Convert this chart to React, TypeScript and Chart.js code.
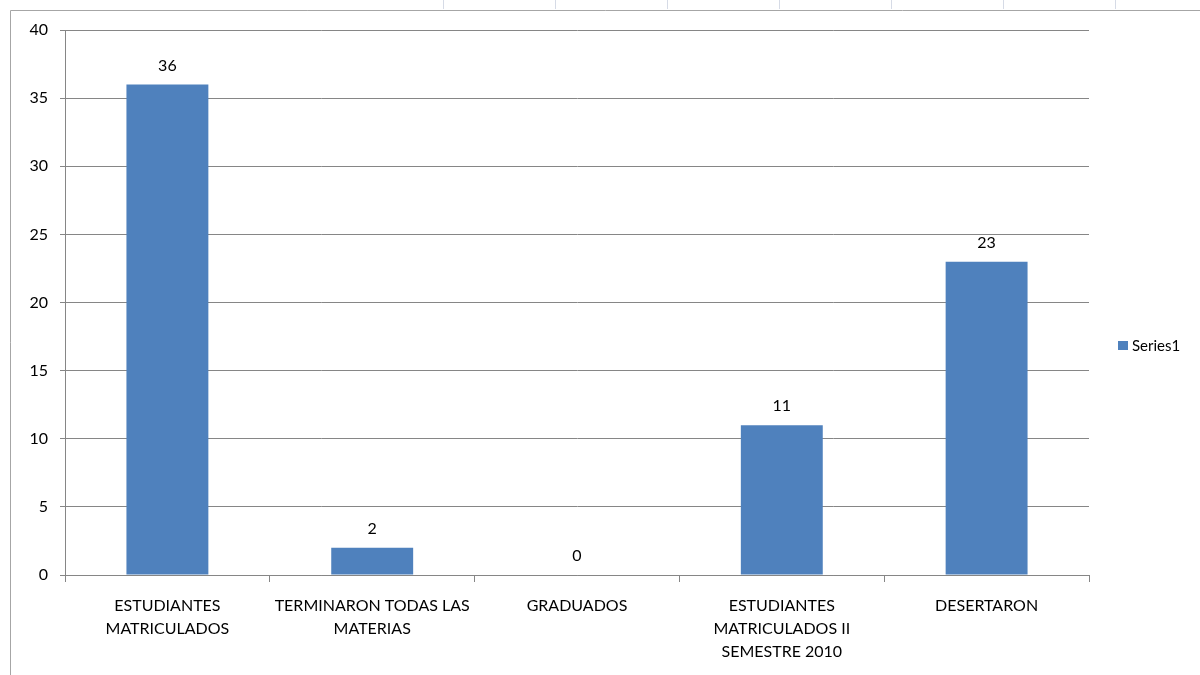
import React, { useEffect, useRef } from "react";
import { Chart, registerables } from "chart.js";

Chart.register(...registerables);

const categories: string[][] = [
  ["ESTUDIANTES", "MATRICULADOS"],
  ["TERMINARON TODAS LAS", "MATERIAS"],
  ["GRADUADOS"],
  ["ESTUDIANTES", "MATRICULADOS II", "SEMESTRE 2010"],
  ["DESERTARON"],
];
const seriesName = "Series1";
const seriesValues: number[] = [36, 2, 0, 11, 23];
const yTicksMin = 0;
const yTicksMax = 40;
const yTicksStep = 5;

const FONT = "Lato, 'Liberation Sans', sans-serif";
const BAR_COLOR = "#4f81bd";
const GRID = "#868686";

const framePlugin = {
  id: "frame",
  beforeDraw(chart: any) {
    const ctx = chart.ctx;
    ctx.save();
    ctx.fillStyle = "#ffffff";
    ctx.fillRect(0, 0, chart.width, chart.height);
    ctx.strokeStyle = "#d6dbe6";
    ctx.lineWidth = 1;
    [443, 555, 667, 779, 891, 1003, 1115].forEach((x) => {
      ctx.beginPath();
      ctx.moveTo(x + 0.5, 0);
      ctx.lineTo(x + 0.5, 9);
      ctx.stroke();
    });
    ctx.strokeStyle = "#a6a6a6";
    ctx.beginPath();
    ctx.moveTo(10.5, chart.height);
    ctx.lineTo(10.5, 10.5);
    ctx.lineTo(chart.width, 10.5);
    ctx.stroke();
    ctx.restore();
  },
};

const valueLabelPlugin = {
  id: "valueLabels",
  afterDatasetsDraw(chart: any) {
    const ctx = chart.ctx;
    ctx.save();
    ctx.font = `16px ${FONT}`;
    ctx.fillStyle = "#000000";
    ctx.textAlign = "center";
    ctx.textBaseline = "middle";
    chart.data.datasets.forEach((ds: any, di: number) => {
      const meta = chart.getDatasetMeta(di);
      meta.data.forEach((bar: any, i: number) => {
        ctx.fillText(String(ds.data[i]), bar.x, bar.y - 19);
      });
    });
    ctx.restore();
  },
};

const legendPlugin = {
  id: "customLegend",
  afterDraw(chart: any) {
    const ctx = chart.ctx;
    const ds = chart.data.datasets[0];
    const cy = 346;
    ctx.save();
    ctx.fillStyle = ds.backgroundColor;
    ctx.fillRect(1118, cy - 5, 10, 9);
    ctx.font = `15px ${FONT}`;
    ctx.fillStyle = "#000000";
    ctx.textAlign = "left";
    ctx.textBaseline = "middle";
    ctx.fillText(ds.label, 1132, cy);
    ctx.restore();
  },
};

export default function App() {
  const canvasRef = useRef<HTMLCanvasElement | null>(null);

  useEffect(() => {
    if (!canvasRef.current) return;
    const chart = new Chart(canvasRef.current, {
      type: "bar",
      data: {
        labels: categories,
        datasets: [
          {
            label: seriesName,
            data: seriesValues,
            backgroundColor: BAR_COLOR,
            barPercentage: 0.4,
            categoryPercentage: 1.0,
          },
        ],
      },
      options: {
        responsive: false,
        animation: false,
        devicePixelRatio: 1,
        layout: { padding: { top: 30, left: 0, right: 111, bottom: 0 } },
        plugins: {
          legend: { display: false },
          tooltip: { enabled: false },
        },
        scales: {
          x: {
            afterFit(scale: any) {
              scale.height = 100;
            },
            grid: {
              drawOnChartArea: false,
              drawTicks: true,
              tickLength: 7,
              color: GRID,
              offset: true,
            },
            border: { color: GRID },
            ticks: {
              autoSkip: false,
              maxRotation: 0,
              minRotation: 0,
              color: "#000000",
              padding: 12,
              font: { family: FONT, size: 16, lineHeight: 23 / 16 },
            },
          },
          y: {
            min: yTicksMin,
            max: yTicksMax,
            afterFit(scale: any) {
              scale.width = 65;
            },
            grid: { color: GRID, tickLength: 5 },
            border: { color: GRID },
            ticks: {
              stepSize: yTicksStep,
              color: "#000000",
              padding: 12,
              font: { family: FONT, size: 16 },
            },
          },
        },
      },
      plugins: [framePlugin, valueLabelPlugin, legendPlugin],
    });
    return () => chart.destroy();
  }, []);

  return (
    <div
      style={{
        position: "absolute",
        left: 0,
        top: 0,
        width: 1200,
        height: 675,
        background: "#ffffff",
      }}
    >
      <canvas ref={canvasRef} width={1200} height={675} style={{ display: "block" }} />
    </div>
  );
}
